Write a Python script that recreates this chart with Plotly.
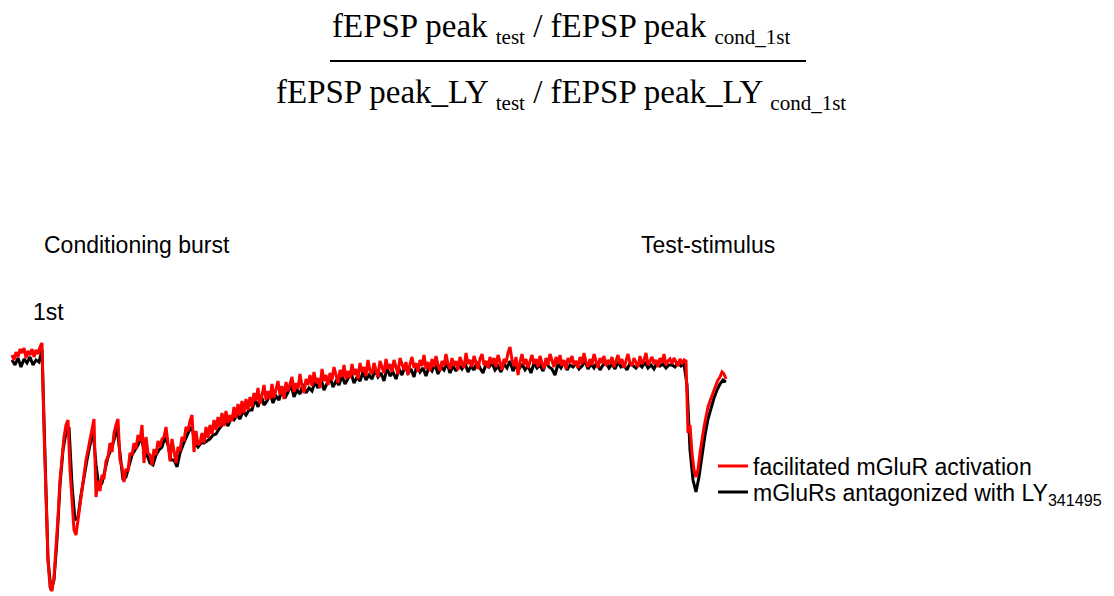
import plotly.graph_objects as go

# Field EPSP recordings (mV), sampled on a uniform time grid (ms).
# Conditioning burst at t = 0 ms, test stimulus at t ~ 258 ms.
t0_facilitated_ms = -12.8
dt_facilitated_ms = 0.8
v_facilitated = [
    0.00, -0.05, 0.03, -0.02, 0.06, 0.02, 0.07, -0.03, 0.04, 0.00,
    0.06, -0.02, 0.05, 0.01, 0.08, 0.12, -0.75, -1.55, -2.05, -2.32,
    -2.36, -2.22, -1.95, -1.62, -1.25, -1.00, -0.82, -0.70, -0.65, -1.15,
    -1.50, -1.75, -1.80, -1.65, -1.45, -1.30, -1.15, -1.05, -0.95, -0.85,
    -0.75, -0.64, -1.42, -1.26, -1.36, -1.20, -1.24, -1.06, -1.02, -0.88,
    -0.97, -0.78, -0.70, -0.64, -1.05, -1.12, -1.27, -1.14, -1.16, -0.98,
    -1.00, -0.88, -0.94, -0.80, -0.86, -0.70, -1.08, -0.82, -0.98, -1.00,
    -1.10, -0.94, -1.00, -0.86, -0.92, -0.84, -0.82, -0.72, -0.88, -1.06,
    -0.84, -0.98, -1.08, -0.92, -0.96, -0.82, -0.86, -0.72, -0.76, -0.66,
    -0.60, -0.97, -0.76, -0.90, -0.88, -0.78, -0.88, -0.72, -0.83, -0.70,
    -0.79, -0.65, -0.75, -0.62, -0.72, -0.58, -0.71, -0.56, -0.68, -0.60,
    -0.66, -0.52, -0.63, -0.49, -0.60, -0.46, -0.58, -0.44, -0.55, -0.42,
    -0.52, -0.38, -0.46, -0.33, -0.49, -0.40, -0.30, -0.45, -0.36, -0.44,
    -0.29, -0.43, -0.35, -0.26, -0.40, -0.31, -0.44, -0.27, -0.36, -0.30,
    -0.22, -0.37, -0.28, -0.34, -0.19, -0.31, -0.38, -0.24, -0.30, -0.20,
    -0.31, -0.17, -0.28, -0.23, -0.33, -0.14, -0.26, -0.20, -0.30, -0.18,
    -0.25, -0.12, -0.21, -0.28, -0.15, -0.22, -0.10, -0.24, -0.16, -0.23,
    -0.09, -0.20, -0.14, -0.24, -0.08, -0.17, -0.12, -0.21, -0.05, -0.16,
    -0.19, -0.08, -0.15, -0.22, -0.06, -0.13, -0.18, -0.04, -0.14, -0.09,
    -0.17, -0.05, -0.12, -0.19, -0.03, -0.10, -0.15, -0.07, -0.20, -0.09,
    -0.02, -0.13, -0.08, -0.17, -0.05, -0.11, 0.00, -0.14, -0.07, -0.16,
    -0.04, -0.12, -0.01, -0.10, -0.16, -0.06, -0.11, 0.01, -0.09, -0.14,
    -0.03, -0.11, -0.06, -0.15, -0.02, -0.08, -0.13, 0.02, -0.09, -0.05,
    -0.12, -0.01, -0.08, -0.14, -0.04, 0.01, -0.10, -0.06, -0.13, -0.02,
    -0.09, -0.03, -0.12, 0.00, -0.07, -0.15, -0.04, -0.08, 0.02, 0.08,
    -0.05, -0.11, -0.02, -0.20, -0.07, 0.01, -0.10, -0.04, -0.13, -0.06,
    0.00, -0.09, -0.04, -0.12, -0.01, -0.08, -0.14, -0.03, -0.10, 0.01,
    -0.07, -0.12, -0.02, -0.09, 0.00, -0.11, -0.05, -0.14, -0.03, -0.08,
    -0.01, -0.10, -0.06, -0.13, -0.02, -0.09, 0.02, -0.07, -0.12, -0.04,
    -0.10, 0.01, -0.06, -0.13, -0.03, -0.08, -0.01, -0.11, -0.05, -0.09,
    -0.02, -0.12, -0.06, 0.00, -0.09, -0.04, -0.13, -0.07, 0.01, -0.08,
    -0.11, -0.03, -0.07, -0.12, -0.01, -0.09, -0.05, 0.02, -0.10, -0.06,
    -0.02, -0.09, -0.05, -0.12, -0.03, -0.08, 0.01, -0.10, -0.06, -0.04,
    -0.09, -0.03, -0.07, -0.11, -0.04, -0.08, -0.05, -0.06, -0.78, -0.70,
    -0.98, -1.15, -1.22, -1.15, -0.98, -0.82, -0.72, -0.62, -0.52, -0.46,
    -0.40, -0.34, -0.30, -0.25, -0.22, -0.17, -0.19, -0.24,
]

t0_ly_ms = -12.8
dt_ly_ms = 1.2
v_ly = [
    -0.05, -0.10, -0.03, -0.12, -0.04, -0.08, -0.02, -0.10, -0.05, -0.07,
    0.05, -1.00, -2.05, -2.35, -2.25, -1.85, -1.30, -0.95, -0.78, -0.72,
    -1.30, -1.65, -1.62, -1.40, -1.20, -1.05, -0.90, -0.75, -1.10, -1.32,
    -1.28, -1.15, -1.02, -0.95, -0.85, -0.72, -1.00, -1.25, -1.22, -1.10,
    -1.00, -0.95, -0.90, -0.82, -0.95, -1.00, -1.08, -1.10, -1.00, -0.95,
    -0.92, -0.82, -0.90, -1.05, -1.05, -1.12, -0.98, -0.90, -0.82, -0.76,
    -0.72, -0.88, -0.92, -0.88, -0.88, -0.86, -0.84, -0.80, -0.79, -0.74,
    -0.70, -0.66, -0.71, -0.63, -0.65, -0.60, -0.64, -0.56, -0.60, -0.55,
    -0.55, -0.44, -0.52, -0.40, -0.50, -0.46, -0.38, -0.48, -0.41, -0.45,
    -0.34, -0.43, -0.37, -0.30, -0.42, -0.35, -0.39, -0.29, -0.38, -0.33,
    -0.36, -0.27, -0.33, -0.24, -0.35, -0.29, -0.22, -0.32, -0.26, -0.30,
    -0.21, -0.29, -0.24, -0.18, -0.28, -0.22, -0.26, -0.17, -0.25, -0.20,
    -0.24, -0.15, -0.22, -0.18, -0.26, -0.13, -0.21, -0.17, -0.24, -0.14,
    -0.20, -0.11, -0.18, -0.14, -0.22, -0.10, -0.17, -0.13, -0.21, -0.12,
    -0.16, -0.09, -0.19, -0.12, -0.15, -0.08, -0.18, -0.11, -0.16, -0.10,
    -0.14, -0.08, -0.17, -0.11, -0.15, -0.07, -0.13, -0.18, -0.09, -0.12,
    -0.08, -0.15, -0.11, -0.17, -0.09, -0.13, -0.06, -0.16, -0.10, -0.14,
    -0.09, -0.15, -0.11, -0.18, -0.08, -0.13, -0.10, -0.16, -0.07, -0.12,
    -0.14, -0.20, -0.09, -0.13, -0.07, -0.15, -0.10, -0.12, -0.08, -0.14,
    -0.11, -0.06, -0.14, -0.09, -0.13, -0.07, -0.15, -0.10, -0.08, -0.13,
    -0.09, -0.14, -0.07, -0.12, -0.10, -0.15, -0.08, -0.11, -0.13, -0.09,
    -0.12, -0.07, -0.13, -0.10, -0.14, -0.08, -0.11, -0.09, -0.13, -0.10,
    -0.10, -0.12, -0.08, -0.11, -0.09, -0.30, -0.95, -1.25, -1.37, -1.22,
    -0.98, -0.80, -0.64, -0.52, -0.43, -0.35, -0.29, -0.25, -0.27,
]

series_names = [
    "facilitated mGluR activation",
    "mGluRs antagonized with LY<sub>341495</sub>",
]
series_colors = ["#ff0000", "#000000"]

SANS = "Arial, Liberation Sans, sans-serif"
SERIF = "Times New Roman, Liberation Serif, serif"
W, H = 1114, 596


def sub(s):
    return '<sub><span style="font-size:21px">' + s + "</span></sub>"


fig = go.Figure()
# black trace underneath, red trace drawn on top
fig.add_trace(go.Scatter(
    y=v_ly, x0=t0_ly_ms, dx=dt_ly_ms, mode="lines",
    name=series_names[1], line=dict(color=series_colors[1], width=3),
    hoverinfo="skip", legend="legend2",
))
fig.add_trace(go.Scatter(
    y=v_facilitated, x0=t0_facilitated_ms, dx=dt_facilitated_ms, mode="lines",
    name=series_names[0], line=dict(color=series_colors[0], width=3),
    hoverinfo="skip", legend="legend",
))


def px(x):
    return x / W


def py(y):
    return 1 - y / H


annotations = [
    dict(text="fEPSP peak " + sub("test") + " / fEPSP peak " + sub("cond_1st"),
         x=px(561), y=py(29), font=dict(family=SERIF, size=33, color="#000"),
         xanchor="center", yanchor="middle"),
    dict(text="fEPSP peak_LY " + sub("test") + " / fEPSP peak_LY " + sub("cond_1st"),
         x=px(561), y=py(95), font=dict(family=SERIF, size=33, color="#000"),
         xanchor="center", yanchor="middle"),
    dict(text="Conditioning burst", x=px(42), y=py(245),
         font=dict(family=SANS, size=23, color="#000"), xanchor="left", yanchor="middle"),
    dict(text="Test-stimulus", x=px(639), y=py(245),
         font=dict(family=SANS, size=23, color="#000"), xanchor="left", yanchor="middle"),
    dict(text="1st", x=px(31), y=py(312),
         font=dict(family=SANS, size=23, color="#000"), xanchor="left", yanchor="middle"),
]
for a in annotations:
    a.update(xref="paper", yref="paper", showarrow=False)

legend_style = dict(
    xanchor="left", yanchor="middle", bgcolor="rgba(0,0,0,0)",
    font=dict(family=SANS, size=23, color="#000"), itemwidth=30,
)

fig.update_layout(
    width=W, height=H,
    margin=dict(l=0, r=0, t=0, b=0),
    paper_bgcolor="white", plot_bgcolor="white",
    xaxis=dict(visible=False, range=[-17.6, 428.0], fixedrange=True),
    yaxis=dict(visible=False, range=[-2.41, 3.55], fixedrange=True),
    annotations=annotations,
    shapes=[dict(type="line", xref="paper", yref="paper",
                 x0=px(330), x1=px(806), y0=py(61), y1=py(61),
                 line=dict(color="#000", width=2))],
    showlegend=True,
    legend=dict(x=px(713), y=py(466), **legend_style),
    legend2=dict(x=px(713), y=py(492), **legend_style),
)

fig.write_html("out.html", config={"displayModeBar": False})
